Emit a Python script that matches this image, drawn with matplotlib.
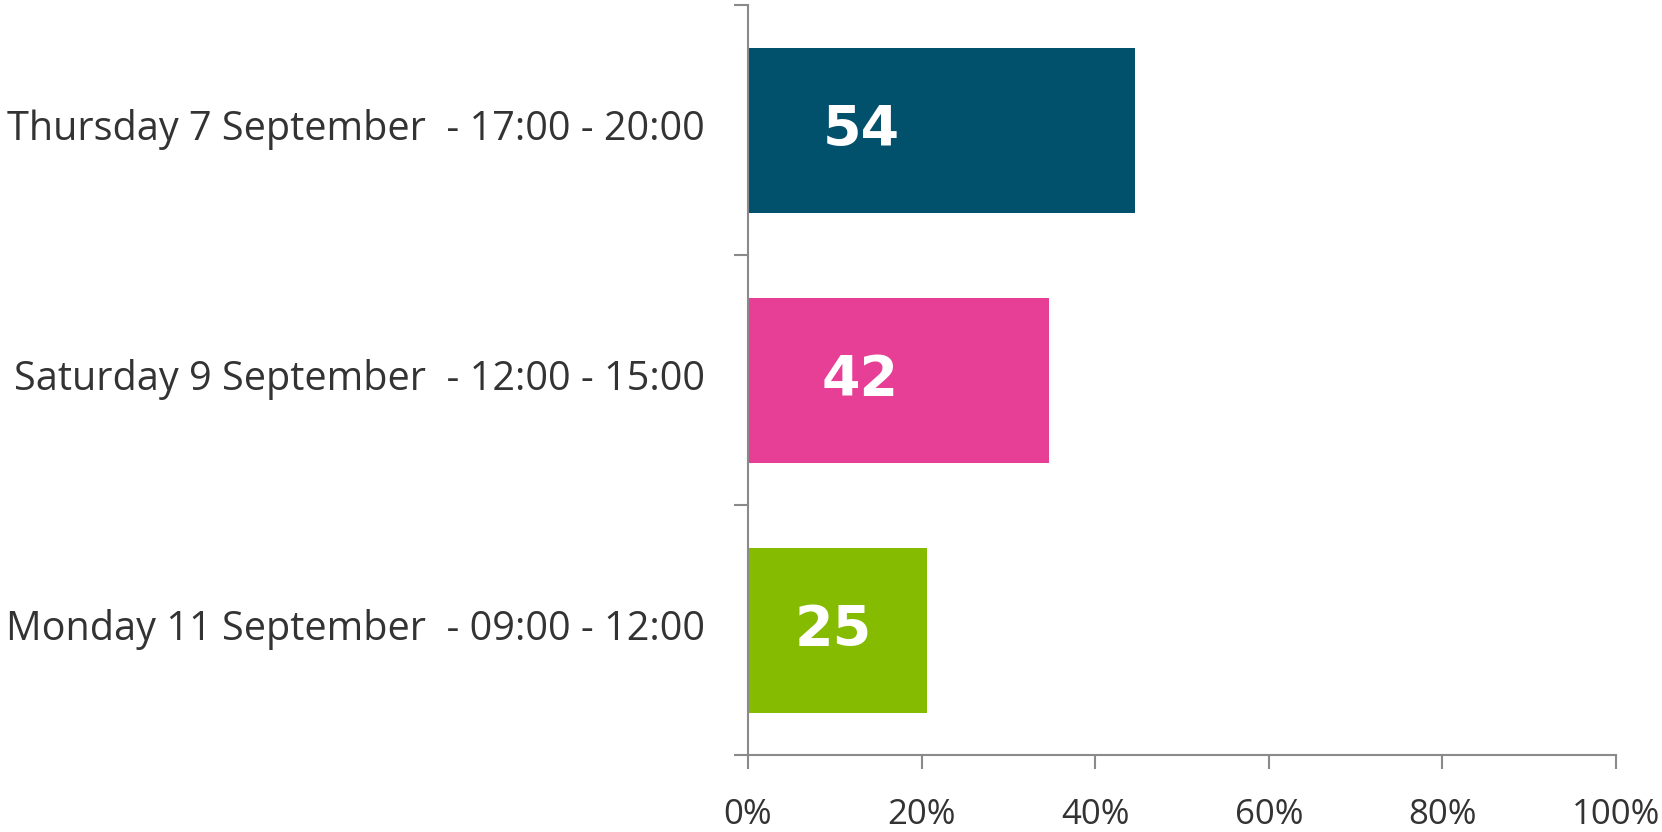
import matplotlib
matplotlib.use("Agg")
import matplotlib.pyplot as plt
import matplotlib.transforms as mtransforms
from matplotlib.ticker import FuncFormatter

categories = ["Thursday 7 September  - 17:00 - 20:00",
              "Saturday 9 September  - 12:00 - 15:00",
              "Monday 11 September  - 09:00 - 12:00"]
counts = [54, 42, 25]
total = 121
colors = ["#01516C", "#E73E96", "#85BB00"]
xticks = [0, 20, 40, 60, 80, 100]

plt.rcParams['font.family'] = ['Open Sans', 'DejaVu Sans']

fig = plt.figure(figsize=(16.62, 8.32), dpi=100)
ax = fig.add_axes([748/1662, 1-755/832, (1616-748)/1662, (755-5)/832])

pcts = [c / total * 100 for c in counts]
ypos = list(range(len(categories)))
ax.barh(ypos, pcts, height=0.66, color=colors, zorder=2)
ax.set_ylim(len(categories) - 0.5, -0.5)
ax.set_xlim(0, 100)

label_x = [13.1, 12.9, 9.8]
for y, c, lx in zip(ypos, counts, label_x):
    ax.text(lx, y, str(c), ha='center', va='center', color='white',
            fontsize=40, fontweight='bold', family=['DejaVu Sans'])

axis_col = '#8a8a8a'
for s in ['top', 'right']:
    ax.spines[s].set_visible(False)
for s in ['left', 'bottom']:
    ax.spines[s].set_color(axis_col)
    ax.spines[s].set_linewidth(1.5)

ax.set_yticks([-0.5, 0.5, 1.5, 2.5], minor=False)
ax.set_yticklabels([])
ax.set_yticks(ypos, minor=True)
ax.set_yticklabels(categories, minor=True)
ax.tick_params(axis='y', which='major', length=10, width=1.5, color=axis_col)
ax.tick_params(axis='y', which='minor', length=0, pad=31, labelsize=28.5, labelcolor='#333333')
offset = mtransforms.ScaledTranslation(0, 5/100, fig.dpi_scale_trans)
for lbl in ax.get_yticklabels(minor=True):
    lbl.set_transform(lbl.get_transform() + offset)

ax.set_xticks(xticks)
ax.xaxis.set_major_formatter(FuncFormatter(lambda v, p: f"{int(v)}%"))
ax.tick_params(axis='x', length=10, width=1.5, color=axis_col, pad=21,
               labelsize=25, labelcolor='#333333')

fig.savefig("out.png", dpi=100)
